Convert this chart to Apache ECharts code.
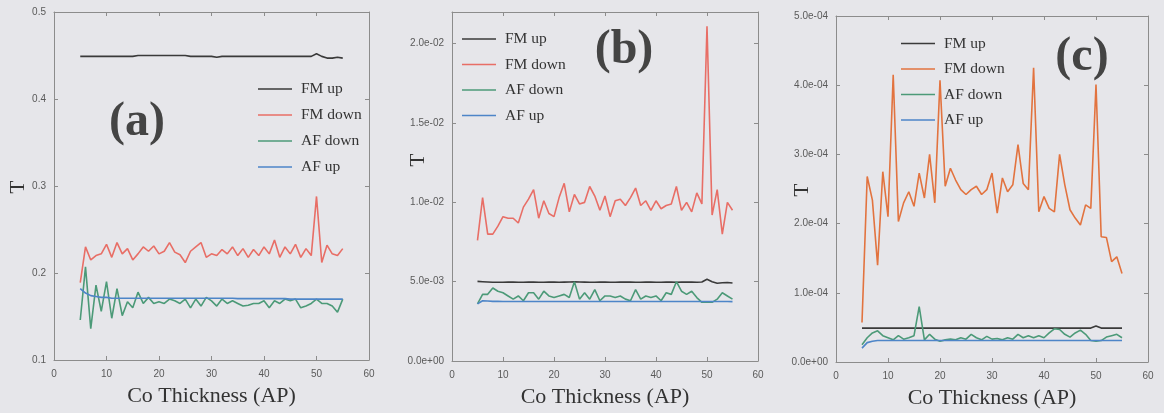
<!DOCTYPE html>
<html><head><meta charset="utf-8">
<script src="https://cdn.jsdelivr.net/npm/echarts@6/dist/echarts.min.js"></script>
<style>html,body{margin:0;padding:0;background:#e6e6ea}#c{width:1164px;height:413px}</style>
</head><body><div id="c"></div><script>
const xs = [5,6,7,8,9,10,11,12,13,14,15,16,17,18,19,20,21,22,23,24,25,26,27,28,29,30,31,32,33,34,35,36,37,38,39,40,41,42,43,44,45,46,47,48,49,50,51,52,53,54,55];
const seriesNames = ['FM up','FM down','AF down','AF up'];
const xTicks = [0,10,20,30,40,50,60];

// Panel (a)
const aFmUp = [0.449,0.449,0.449,0.449,0.449,0.449,0.449,0.449,0.449,0.449, 0.449,0.450,0.450,0.450,0.450,0.450,0.450,0.450,0.450,0.450, 0.450,0.449,0.449,0.449,0.449,0.449,0.448,0.449,0.449,0.449, 0.449,0.449,0.449,0.449,0.449,0.449,0.449,0.449,0.449,0.449, 0.449,0.449,0.449,0.449,0.449,0.452,0.449,0.447,0.447,0.448, 0.447];
const aFmDown = [0.189,0.230,0.215,0.220,0.222,0.233,0.218,0.235,0.222,0.228, 0.215,0.222,0.230,0.225,0.231,0.222,0.225,0.235,0.224,0.221, 0.212,0.225,0.230,0.235,0.218,0.222,0.220,0.227,0.222,0.230, 0.220,0.228,0.218,0.227,0.220,0.230,0.222,0.238,0.218,0.230, 0.222,0.233,0.218,0.228,0.220,0.288,0.212,0.232,0.222,0.220, 0.228];
const aAfDown = [0.146,0.207,0.136,0.186,0.156,0.190,0.148,0.182,0.151,0.167, 0.160,0.178,0.165,0.172,0.165,0.167,0.165,0.170,0.168,0.165, 0.170,0.160,0.170,0.162,0.172,0.168,0.162,0.170,0.165,0.168, 0.165,0.162,0.163,0.165,0.165,0.168,0.160,0.168,0.165,0.170, 0.168,0.170,0.160,0.162,0.165,0.170,0.165,0.165,0.162,0.155, 0.170];
const aAfUp = [0.182,0.177,0.174,0.173,0.172,0.172,0.171,0.171,0.171,0.171, 0.171,0.171,0.171,0.171,0.171,0.171,0.171,0.171,0.171,0.171, 0.171,0.171,0.171,0.171,0.171,0.171,0.171,0.171,0.171,0.171, 0.1705,0.1705,0.1705,0.1705,0.1705,0.1705,0.1705,0.1705,0.1705,0.1705, 0.170,0.170,0.170,0.170,0.170,0.170,0.170,0.170,0.170,0.170, 0.170];

// Panel (b)
const bFmUp = [0.00502,0.00500,0.00498,0.00496,0.00496,0.00496,0.00497,0.00497,0.00496,0.00496, 0.00497,0.00497,0.00496,0.00496,0.00497,0.00497,0.00496,0.00497,0.00498,0.00500, 0.00498,0.00497,0.00496,0.00496,0.00497,0.00497,0.00496,0.00496,0.00497,0.00497, 0.00497,0.00496,0.00496,0.00497,0.00497,0.00496,0.00496,0.00497,0.00497,0.00496, 0.00497,0.00497,0.00498,0.00496,0.00498,0.00515,0.00500,0.00490,0.00493,0.00495, 0.00492];
const bFmDown = [0.0076,0.0103,0.0080,0.0080,0.0085,0.0091,0.0090,0.0090,0.0087,0.0097, 0.0102,0.0108,0.0090,0.0101,0.0093,0.0091,0.0103,0.0112,0.0094,0.0105, 0.0099,0.0100,0.0110,0.0104,0.0095,0.0104,0.0091,0.0101,0.0102,0.0098, 0.0103,0.0109,0.0098,0.0101,0.0095,0.0101,0.0096,0.0098,0.0099,0.0110, 0.0095,0.0100,0.0094,0.0106,0.0099,0.0211,0.0092,0.0108,0.0080,0.0100, 0.0095];
const bAfDown = [0.0036,0.0042,0.0042,0.0046,0.0044,0.0043,0.0041,0.0039,0.0041,0.0038, 0.0043,0.0043,0.0039,0.0044,0.0041,0.0040,0.0041,0.0042,0.0040,0.0050, 0.0039,0.0043,0.0039,0.0045,0.0038,0.0041,0.0041,0.0040,0.0041,0.0039, 0.0038,0.0045,0.0039,0.0041,0.0040,0.0041,0.0038,0.0043,0.0042,0.0050, 0.0044,0.0042,0.0044,0.0040,0.0037,0.0037,0.0037,0.0039,0.0043,0.0041, 0.0039];
const bAfUp = [0.0036,0.0038,0.00378,0.00376,0.00376,0.00375,0.00375,0.00375,0.00375,0.00375, 0.00375,0.00375,0.00375,0.00375,0.00375,0.00375,0.00375,0.00375,0.00375,0.00375, 0.00375,0.00375,0.00375,0.00375,0.00375,0.00375,0.00375,0.00375,0.00375,0.00375, 0.00375,0.00375,0.00375,0.00375,0.00375,0.00375,0.00375,0.00375,0.00375,0.00375, 0.00375,0.00375,0.00375,0.00375,0.00375,0.00375,0.00375,0.00375,0.00375,0.00375, 0.00374];

// Panel (c)
const cFmUp = [4.9e-5,4.9e-5,4.9e-5,4.9e-5,4.9e-5,4.9e-5,4.9e-5,4.9e-5,4.9e-5,4.9e-5, 4.9e-5,4.9e-5,4.9e-5,4.9e-5,4.9e-5,4.9e-5,4.9e-5,4.9e-5,4.9e-5,4.9e-5, 4.9e-5,4.9e-5,4.9e-5,4.9e-5,4.9e-5,4.9e-5,4.9e-5,4.9e-5,4.9e-5,4.9e-5, 4.9e-5,4.9e-5,4.9e-5,4.9e-5,4.9e-5,4.9e-5,4.9e-5,4.9e-5,4.9e-5,4.9e-5, 4.9e-5,4.9e-5,4.9e-5,4.9e-5,4.9e-5,5.2e-5,4.9e-5,4.9e-5,4.9e-5,4.9e-5, 4.9e-5];
const cFmDown = [0.57e-4,2.68e-4,2.34e-4,1.40e-4,2.75e-4,2.10e-4,4.15e-4,2.03e-4,2.30e-4,2.46e-4, 2.25e-4,2.73e-4,2.37e-4,3.00e-4,2.30e-4,4.07e-4,2.54e-4,2.80e-4,2.63e-4,2.49e-4, 2.42e-4,2.49e-4,2.54e-4,2.42e-4,2.49e-4,2.73e-4,2.15e-4,2.66e-4,2.46e-4,2.56e-4, 3.14e-4,2.58e-4,2.49e-4,4.25e-4,2.17e-4,2.39e-4,2.22e-4,2.17e-4,3.00e-4,2.56e-4, 2.20e-4,2.08e-4,1.98e-4,2.27e-4,2.22e-4,4.01e-4,1.81e-4,1.80e-4,1.45e-4,1.52e-4, 1.28e-4];
const cAfDown = [2.5e-5,3.5e-5,4.2e-5,4.5e-5,3.8e-5,3.5e-5,3.2e-5,3.8e-5,3.3e-5,3.5e-5, 3.8e-5,8.0e-5,3.2e-5,4.0e-5,3.3e-5,3.0e-5,3.2e-5,3.3e-5,3.2e-5,3.5e-5, 3.3e-5,4.0e-5,3.5e-5,3.2e-5,3.7e-5,3.3e-5,3.4e-5,3.2e-5,3.5e-5,3.3e-5, 4.0e-5,3.5e-5,3.8e-5,3.5e-5,3.8e-5,3.5e-5,4.2e-5,4.8e-5,4.7e-5,4.0e-5, 3.6e-5,4.2e-5,4.6e-5,4.0e-5,3.1e-5,3.0e-5,3.1e-5,3.6e-5,3.8e-5,4.0e-5, 3.5e-5];
const cAfUp = [2.0e-5,2.8e-5,3.0e-5,3.1e-5,3.1e-5,3.1e-5,3.1e-5,3.1e-5,3.1e-5,3.1e-5, 3.1e-5,3.1e-5,3.1e-5,3.1e-5,3.1e-5,3.1e-5,3.1e-5,3.1e-5,3.1e-5,3.1e-5, 3.1e-5,3.1e-5,3.1e-5,3.1e-5,3.1e-5,3.1e-5,3.1e-5,3.1e-5,3.1e-5,3.1e-5, 3.1e-5,3.1e-5,3.1e-5,3.1e-5,3.1e-5,3.1e-5,3.1e-5,3.1e-5,3.1e-5,3.1e-5, 3.1e-5,3.1e-5,3.1e-5,3.1e-5,3.1e-5,3.1e-5,3.1e-5,3.1e-5,3.1e-5,3.1e-5, 3.1e-5];

const panelLabels = ['(a)','(b)','(c)'];
const palette = [
  ['#3a3a3a','#e86e66','#4c9a78','#4d85c8'],
  ['#3a3a3a','#e86e66','#4c9a78','#4d85c8'],
  ['#3a3a3a','#e2733f','#4c9a78','#4d85c8']
];

function sci(v){
  if (Math.abs(v) < 1e-15) return '0.0e+00';
  const parts = v.toExponential(1).split('e');
  const n = Math.abs(parseInt(parts[1],10));
  return parts[0] + 'e' + (parts[1][0]==='-'?'-':'+') + (n<10?'0'+n:String(n));
}
function onStep(v, step){ const r = v/step; return Math.abs(r-Math.round(r)) < 1e-6; }

const panels = [
  {grid:{left:54, top:12, width:315, height:348}, ymin:0.1, ymax:0.5, yint:0.1, fmt:v=>onStep(v,0.1)?v.toFixed(1):'', data:[aFmUp,aFmDown,aAfDown,aAfUp],
   tPos:[18,187], legend:{left:253, top:76, gap:10}},
  {grid:{left:452, top:12, width:306, height:349}, ymin:0, ymax:0.022, yint:0.005, fmt:v=>onStep(v,0.005)?sci(v):'', data:[bFmUp,bFmDown,bAfDown,bAfUp],
   tPos:[418,160], legend:{left:457, top:26, gap:9.5}},
  {grid:{left:836, top:16, width:312, height:346}, ymin:0, ymax:0.0005, yint:0.0001, fmt:v=>onStep(v,0.0001)?sci(v):'', data:[cFmUp,cFmDown,cAfDown,cAfUp],
   tPos:[802,190], legend:{left:896, top:30.5, gap:9.5}}
];

const axisColor = '#8c8c8c';
const option = {backgroundColor:'#e6e6ea', animation:false, grid:[], xAxis:[], yAxis:[], series:[], legend:[], graphic:[]};
const labelFont = {fontFamily:'Liberation Sans', fontSize:10, color:'#5a5a5a'};

panels.forEach((p,i)=>{
  option.grid.push(Object.assign({containLabel:false, outerBoundsMode:'none'}, p.grid));
  option.xAxis.push({type:'value', gridIndex:i, min:0, max:60, interval:10, position:'bottom',
    axisLine:{show:true, onZero:false, lineStyle:{color:axisColor}}, axisTick:{show:true, inside:true, length:4, lineStyle:{color:axisColor}},
    axisLabel:Object.assign({margin:9, formatter:v=>xTicks.indexOf(v)>=0?String(v):''}, labelFont), splitLine:{show:false},
    name:'Co Thickness (AP)', nameLocation:'middle', nameGap:25, nameMoveOverlap:false,
    nameTextStyle:{fontFamily:'Liberation Serif', fontSize:22, color:'#333'}});
  option.yAxis.push({type:'value', gridIndex:i, min:p.ymin, max:p.ymax, interval:p.yint, position:'left',
    axisLine:{show:true, onZero:false, lineStyle:{color:axisColor}}, axisTick:{show:true, inside:true, length:4, lineStyle:{color:axisColor}},
    axisLabel:Object.assign({margin:8, formatter:p.fmt}, labelFont), splitLine:{show:false}});
  p.data.forEach((arr,k)=>{
    const col = palette[i][k];
    option.series.push({type:'line', name:seriesNames[k], xAxisIndex:i, yAxisIndex:i, symbol:'none', showSymbol:false,
      data: xs.map((x,j)=>[x, arr[j]]), lineStyle:{width:1.6, color:col}, itemStyle:{color:col}, z:k===1?3:2});
  });
  option.legend.push({orient:'vertical', left:p.legend.left, top:p.legend.top, itemWidth:34, itemHeight:1.6, itemGap:p.legend.gap,
    icon:'rect', selectedMode:false,
    data:seriesNames.map((n,k)=>({name:n, itemStyle:{color:palette[i][k]}})),
    textStyle:{fontFamily:'Liberation Serif', fontSize:15.5, lineHeight:16, color:'#333', padding:[0,0,0,4]}});
  option.graphic.push({type:'text', x:p.tPos[0], y:p.tPos[1], rotation:Math.PI/2,
    style:{text:'T', align:'center', verticalAlign:'middle', fontFamily:'Liberation Serif', fontSize:21, fill:'#333'}});
});
// top & right frame axes (ticks only)
panels.forEach((p,i)=>{
  option.xAxis.push({type:'value', gridIndex:i, min:0, max:60, interval:10, position:'top',
    axisLine:{show:true, onZero:false, lineStyle:{color:axisColor}}, axisTick:{show:true, inside:true, length:4, lineStyle:{color:axisColor}},
    axisLabel:{show:false}, splitLine:{show:false}});
  option.yAxis.push({type:'value', gridIndex:i, min:p.ymin, max:p.ymax, interval:p.yint, position:'right',
    axisLine:{show:true, onZero:false, lineStyle:{color:axisColor}}, axisTick:{show:true, inside:true, length:4, lineStyle:{color:axisColor}},
    axisLabel:{show:false}, splitLine:{show:false}});
});
const labelPos = [[137,123],[624,51],[1082,58]];
panelLabels.forEach((t,i)=>{
  option.graphic.push({type:'text', x:labelPos[i][0], y:labelPos[i][1],
    style:{text:t, align:'center', verticalAlign:'middle', fontFamily:'Liberation Serif', fontWeight:'bold', fontSize:48, fill:'#444'}});
});
const chart = echarts.init(document.getElementById('c'), null, {renderer:'canvas'});
chart.setOption(option);
</script></body></html>
